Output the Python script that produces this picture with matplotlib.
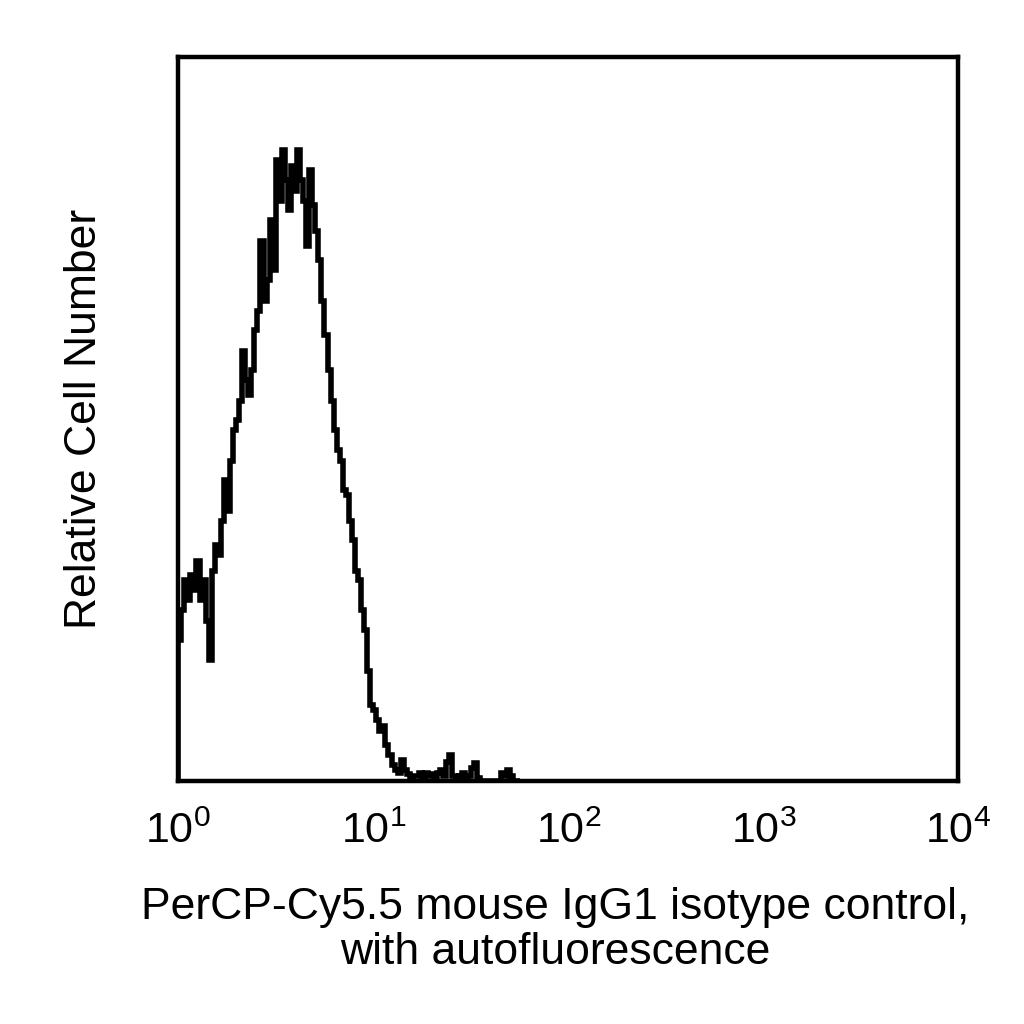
import numpy as np
import matplotlib.pyplot as plt

plt.rcParams['font.family'] = ['Liberation Sans', 'DejaVu Sans']
plt.rcParams['mathtext.fontset'] = 'custom'
plt.rcParams['mathtext.rm'] = 'Liberation Sans'
plt.rcParams['mathtext.it'] = 'Liberation Sans'

# relative counts per channel (256 channels over 4 decades, only first ones non-zero)
counts = [19.5, 23.6, 27.8, 25.0, 28.5, 26.4, 30.5, 25.0, 27.8, 22.2,
          16.7, 29.0, 32.6, 31.2, 36.0, 41.6, 37.4, 44.3, 48.5, 49.9,
          52.6, 59.5, 55.4, 53.3, 56.8, 62.3, 65.0, 74.7, 66.4, 69.2,
          77.5, 70.6, 85.8, 80.2, 87.2, 83.0, 78.9, 85.0, 81.6, 87.2,
          83.0, 80.2, 74.0, 84.4, 79.6, 76.0, 72.0, 66.4, 61.6, 56.8,
          52.6, 48.5, 45.7, 44.3, 40.2, 39.5, 36.0, 33.3, 29.1, 27.8,
          23.6, 20.9, 15.3, 10.5, 9.8, 8.4, 7.0, 7.7, 5.0, 3.6,
          2.2, 1.5, 1.2, 2.9, 1.5, 1.0, 0.4, 0.8, 0.7, 1.1,
          0.4, 1.2, 0.7, 1.0, 0.4, 1.2, 1.5, 0.7, 2.6, 3.6,
          0.8, 0.4, 0.7, 1.2, 0.4, 0.8, 1.8, 2.5, 0.4, 0.1,
          0.1, 0.0, 0.0, 0.0, 0.0, 0.0, 1.2, 0.8, 1.5, 0.7,
          0.0, 0.0]
n_channels = 256
edges = np.logspace(0, 4, n_channels + 1)[:len(counts) + 1]

tick_vals = [1, 10, 100, 1000, 10000]
tick_labels = [r'$\mathregular{10^{%d}}$' % i for i in range(5)]

fig = plt.figure(figsize=(10.24, 10.24), dpi=100)
ax = fig.add_axes([0.174, 0.237, 0.762, 0.707])
ax.stairs(counts, edges, color='black', linewidth=4)
ax.set_xscale('log')
ax.set_xlim(1, 10000)
ax.set_ylim(0, 100)
ax.set_xticks(tick_vals)
ax.set_xticklabels(tick_labels, fontsize=31)
ax.minorticks_off()
ax.set_yticks([])
ax.tick_params(axis='x', length=0, pad=22)
for s in ax.spines.values():
    s.set_linewidth(3.2)
ax.set_ylabel('Relative Cell Number', fontsize=32, labelpad=53)
ax.set_xlabel('PerCP-Cy5.5 mouse IgG1 isotype control,\nwith autofluorescence',
              fontsize=32, labelpad=20, linespacing=1.12)
ax.xaxis.set_label_coords(0.483, -0.146)

fig.savefig('out.png', dpi=100)
